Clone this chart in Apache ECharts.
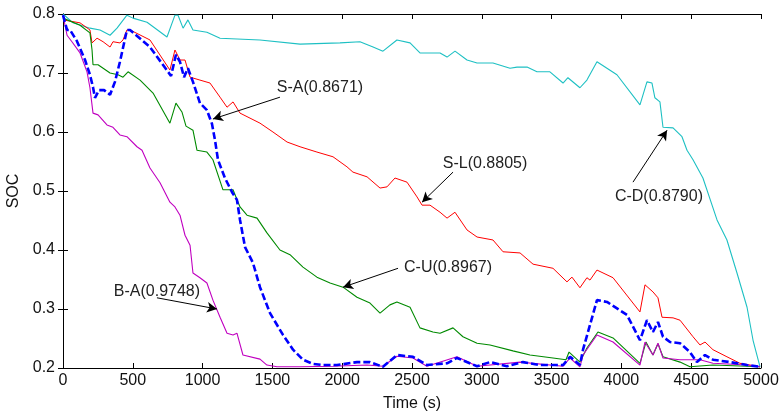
<!DOCTYPE html>
<html><head><meta charset="utf-8">
<script src="https://cdn.jsdelivr.net/npm/echarts@6/dist/echarts.min.js"></script>
<style>html,body{margin:0;padding:0;background:#fff}#c{width:780px;height:412px}</style>
</head><body><div id="c"></div>
<script>
const xTicks = [0,500,1000,1500,2000,2500,3000,3500,4000,4500,5000];
const yTicks = [0.2,0.3,0.4,0.5,0.6,0.7,0.8];

const cdData = [[0,0.800],[72,0.785],[193,0.776],[265,0.773],[337,0.764],[387,0.776],[458,0.798],[501,0.793],[602,0.786],[745,0.761],[802,0.798],[824,0.798],[860,0.776],[895,0.790],[931,0.773],[1031,0.769],[1125,0.759],[1411,0.756],[1698,0.749],[1984,0.751],[2127,0.753],[2221,0.744],[2292,0.737],[2392,0.756],[2486,0.751],[2557,0.734],[2701,0.734],[2751,0.727],[2808,0.737],[2894,0.722],[2966,0.717],[3080,0.717],[3202,0.708],[3252,0.710],[3324,0.710],[3395,0.702],[3488,0.702],[3582,0.683],[3617,0.692],[3703,0.675],[3753,0.688],[3825,0.719],[3968,0.697],[4133,0.646],[4183,0.685],[4219,0.683],[4240,0.658],[4276,0.651],[4298,0.608],[4370,0.607],[4434,0.592],[4470,0.569],[4513,0.553],[4584,0.522],[4685,0.451],[4756,0.417],[4828,0.361],[4900,0.303],[4943,0.247],[4993,0.202]];

const slData = [[0,0.790],[122,0.785],[193,0.773],[208,0.751],[244,0.759],[287,0.753],[337,0.744],[358,0.753],[408,0.751],[430,0.756],[458,0.773],[480,0.773],[623,0.756],[766,0.705],[802,0.739],[838,0.722],[874,0.722],[910,0.693],[981,0.688],[1053,0.683],[1125,0.659],[1175,0.642],[1218,0.651],[1268,0.632],[1411,0.615],[1504,0.600],[1605,0.583],[1698,0.575],[1819,0.566],[1934,0.558],[2034,0.541],[2077,0.532],[2178,0.524],[2271,0.505],[2321,0.507],[2378,0.522],[2464,0.515],[2536,0.490],[2572,0.476],[2629,0.476],[2701,0.464],[2751,0.454],[2808,0.464],[2894,0.434],[2966,0.422],[3080,0.417],[3152,0.397],[3274,0.395],[3367,0.376],[3510,0.369],[3610,0.346],[3646,0.354],[3703,0.336],[3753,0.353],[3775,0.349],[3825,0.366],[3940,0.353],[4133,0.295],[4169,0.341],[4226,0.329],[4262,0.319],[4291,0.286],[4370,0.285],[4420,0.281],[4513,0.253],[4563,0.239],[4599,0.244],[4656,0.231],[4756,0.219],[4849,0.208],[4993,0.202]];

const saData = [[0,0.798],[29,0.773],[50,0.773],[100,0.754],[158,0.722],[193,0.697],[215,0.676],[229,0.658],[258,0.671],[294,0.671],[337,0.663],[372,0.685],[408,0.719],[458,0.773],[480,0.773],[623,0.744],[774,0.695],[809,0.731],[838,0.719],[867,0.693],[895,0.708],[931,0.685],[981,0.649],[1031,0.637],[1067,0.614],[1089,0.586],[1110,0.553],[1160,0.522],[1211,0.498],[1246,0.485],[1268,0.451],[1304,0.405],[1361,0.378],[1411,0.337],[1483,0.293],[1576,0.256],[1648,0.231],[1719,0.214],[1791,0.207],[1862,0.205],[1963,0.205],[2106,0.210],[2199,0.210],[2292,0.202],[2392,0.222],[2507,0.219],[2607,0.205],[2751,0.208],[2822,0.217],[2966,0.203],[3059,0.210],[3180,0.203],[3295,0.210],[3417,0.205],[3582,0.205],[3632,0.219],[3703,0.205],[3725,0.231],[3775,0.273],[3825,0.315],[3897,0.312],[4040,0.290],[4133,0.247],[4183,0.281],[4226,0.261],[4262,0.278],[4298,0.253],[4348,0.244],[4420,0.242],[4491,0.227],[4541,0.210],[4599,0.222],[4656,0.214],[4778,0.210],[4900,0.205],[4993,0.202]];

const cuData = [[0,0.793],[122,0.781],[193,0.768],[208,0.739],[215,0.714],[251,0.714],[337,0.700],[394,0.697],[430,0.693],[466,0.702],[552,0.688],[645,0.666],[766,0.615],[809,0.649],[852,0.634],[881,0.610],[931,0.603],[960,0.569],[1031,0.566],[1074,0.553],[1146,0.502],[1218,0.502],[1268,0.473],[1318,0.459],[1390,0.454],[1461,0.429],[1554,0.400],[1626,0.392],[1719,0.371],[1819,0.354],[1913,0.344],[2006,0.337],[2106,0.320],[2199,0.310],[2271,0.293],[2342,0.307],[2392,0.312],[2486,0.303],[2557,0.268],[2650,0.261],[2701,0.259],[2794,0.268],[2865,0.253],[2966,0.242],[3059,0.239],[3223,0.229],[3345,0.222],[3510,0.217],[3603,0.214],[3625,0.227],[3703,0.210],[3753,0.234],[3832,0.261],[3940,0.251],[4133,0.208],[4176,0.244],[4226,0.222],[4262,0.241],[4298,0.219],[4420,0.210],[4491,0.202],[4656,0.205],[4900,0.203],[4993,0.202]];

const baData = [[0,0.798],[29,0.764],[64,0.753],[122,0.734],[172,0.702],[193,0.675],[215,0.632],[251,0.629],[315,0.612],[358,0.608],[408,0.595],[458,0.592],[530,0.575],[566,0.569],[623,0.539],[695,0.514],[766,0.481],[802,0.473],[838,0.459],[874,0.425],[910,0.408],[931,0.361],[981,0.353],[1031,0.344],[1074,0.315],[1125,0.286],[1175,0.259],[1218,0.256],[1246,0.259],[1289,0.222],[1411,0.215],[1461,0.205],[1533,0.202],[1698,0.202],[1934,0.203],[2178,0.205],[2292,0.203],[2392,0.220],[2507,0.217],[2607,0.203],[2822,0.219],[2966,0.203],[3274,0.210],[3582,0.203],[3632,0.217],[3703,0.202],[3725,0.222],[3825,0.256],[3940,0.244],[4133,0.205],[4169,0.244],[4226,0.222],[4262,0.242],[4298,0.217],[4420,0.214],[4563,0.214],[4656,0.208],[4900,0.205],[4993,0.202]];

const annLabels = ['S-A(0.8671)','S-L(0.8805)','C-U(0.8967)','B-A(0.9748)','C-D(0.8790)'];
const annText = [[1841,0.676],[3023,0.546],[2758,0.371],[673,0.329],[4269,0.490]];
const annFrom = [[1554,0.659],[2794,0.532],[2400,0.369],[673,0.319],[4083,0.515]];
const annTo = [[1074,0.622],[2572,0.481],[2006,0.337],[1103,0.300],[4327,0.603]];

const FONT = 'Liberation Sans, Arial, sans-serif';
const FS = 16;
const chart = echarts.init(document.getElementById('c'), null, {renderer:'canvas'});

function axisCommon(show){
  return {
    axisLine:{show:true,lineStyle:{color:'#000',width:1}},
    axisTick:{show:true,inside:true,length:5,lineStyle:{color:'#000'}},
    splitLine:{show:false},
    axisLabel:{show:show,color:'#111',fontSize:FS,fontFamily:FONT}
  };
}

const annSeries = {
  type:'line', data:[], silent:true, xAxisIndex:0, yAxisIndex:0,
  markLine:{
    silent:true, animation:false,
    symbol:['none','arrow'], symbolSize:[8,10],
    lineStyle:{color:'#000',width:1,type:'solid'},
    label:{show:false},
    data: annFrom.map((f,i)=>[{coord:f},{coord:annTo[i]}])
  },
  markPoint:{
    silent:true, animation:false,
    symbol:'circle', symbolSize:1, itemStyle:{color:'rgba(0,0,0,0)'},
    label:{show:true,position:'inside',color:'#222',fontSize:FS,fontFamily:FONT,formatter:p=>p.name},
    data: annText.map((c,i)=>({name:annLabels[i],coord:c}))
  }
};

function lineS(name,data,color,width,dashed){
  return {name, type:'line', data, showSymbol:false, symbol:'none', xAxisIndex:0, yAxisIndex:0,
    lineStyle:{color, width, type: dashed ? [7,3] : 'solid'}, z:2};
}

chart.setOption({
  animation:false,
  backgroundColor:'#fff',
  grid:{left:63,right:19,top:14,bottom:44,containLabel:false,outerBoundsMode:'none'},
  xAxis:[
    Object.assign({type:'value',min:0,max:5000,interval:500,position:'bottom',
      name:'Time (s)',nameLocation:'middle',nameGap:28,
      nameTextStyle:{color:'#111',fontSize:FS,fontFamily:FONT}}, axisCommon(true),
      {axisLabel:{show:true,color:'#111',fontSize:FS,fontFamily:FONT,margin:5,formatter:v=>String(v)}}),
    Object.assign({type:'value',min:0,max:5000,interval:500,position:'top'}, axisCommon(false))
  ],
  yAxis:[
    Object.assign({type:'value',min:0.2,max:0.8,interval:0.1,position:'left',
      name:'SOC',nameLocation:'middle',nameGap:41,
      nameTextStyle:{color:'#111',fontSize:FS,fontFamily:FONT}}, axisCommon(true),
      {axisLabel:{show:true,color:'#111',fontSize:FS,fontFamily:FONT,margin:8,formatter:v=>v.toFixed(1)}}),
    Object.assign({type:'value',min:0.2,max:0.8,interval:0.1,position:'right'}, axisCommon(false))
  ],
  series:[
    lineS('C-D',cdData,'#1EC0C3',1.1,false),
    lineS('S-L',slData,'#FF0000',1,false),
    lineS('C-U',cuData,'#008A00',1.1,false),
    lineS('B-A',baData,'#C000C0',1.1,false),
    lineS('S-A',saData,'#0000FF',2.6,true),
    annSeries
  ]
});
</script></body></html>
